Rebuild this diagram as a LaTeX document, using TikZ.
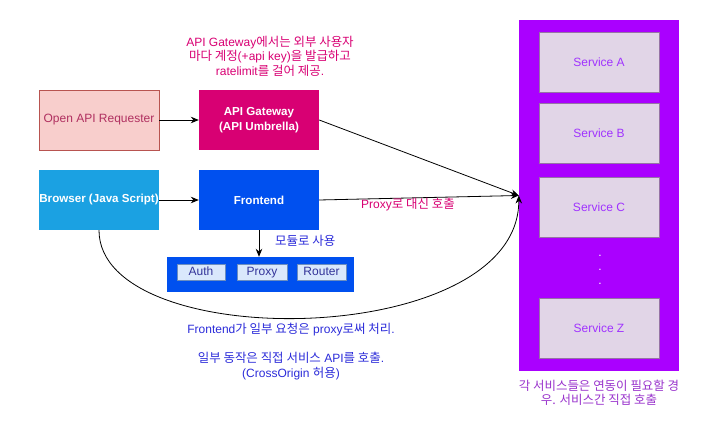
\documentclass[tikz,border=0pt]{standalone}
\usepackage{fontspec}
\setmainfont{Liberation Sans}
\newfontfamily\kr[Scale=1.04]{Noto Sans CJK KR}
\usetikzlibrary{arrows.meta}
\definecolor{reqfill}{HTML}{F8CECC}
\definecolor{reqline}{HTML}{B85450}
\definecolor{reqtext}{HTML}{B03060}
\definecolor{gwfill}{HTML}{D80073}
\definecolor{brfill}{HTML}{1BA1E2}
\definecolor{fefill}{HTML}{0050EF}
\definecolor{modfill}{HTML}{DAE8FC}
\definecolor{modline}{HTML}{6C8EBF}
\definecolor{modtext}{HTML}{333399}
\definecolor{svcpanel}{HTML}{AA00FF}
\definecolor{svcfill}{HTML}{E1D5E7}
\definecolor{svcline}{HTML}{9673A6}
\definecolor{svctext}{HTML}{A033FF}
\definecolor{svcnote}{HTML}{9933CC}
\definecolor{pinktext}{HTML}{D80073}
\definecolor{bluetext}{HTML}{2B2BD9}
\begin{document}
\begin{tikzpicture}[x=1pt,y=-1pt,
  font=\fontsize{12}{14.5}\selectfont,
  box/.style={minimum width=120pt,minimum height=60pt,inner sep=0pt,align=center},
  whitebold/.style={box,text=white,font=\fontsize{11.6}{15}\selectfont\bfseries},
  modbox/.style={draw=modline,fill=modfill,text=modtext,line width=0.9pt,minimum height=16pt,inner sep=0pt,text height=8.6pt,text depth=2.4pt},
  svcbox/.style={draw=svcline,fill=svcfill,text=svctext,line width=0.9pt,minimum width=120pt,minimum height=60pt,inner sep=0pt},
  conn/.style={draw=black,line width=0.8pt,-{Stealth[length=8pt,width=6.5pt]}},
  note/.style={align=center,inner sep=0pt}]
\useasboundingbox (0,0) rectangle (713,427);

% top note
\node[note,text=pinktext] (gwnote) at (270,56) {API Gateway{\kr 에서는 외부 사용자}\\{\kr 마다 계정}(+api key){\kr 을 발급하고}\\ratelimit{\kr 를 걸어 제공}.};

% left boxes
\node[box,draw=reqline,fill=reqfill,text=reqtext,line width=0.9pt] (req) at (99,120) {Open API Requester};
\node[whitebold,fill=gwfill] (gw) at (259,120) {API Gateway\\(API Umbrella)};
\node[whitebold,fill=brfill] (br) at (99,200) {Browser (Java Script)};
\node[whitebold,fill=fefill] (fe) at (259,200) {Frontend};

% modules
\node[fill=fefill,minimum width=187pt,minimum height=35pt,inner sep=0pt] (mods) at (260,274.5) {};
\node[modbox,minimum width=48pt] (auth) at (201,272) {Auth};
\node[modbox,minimum width=50pt] (proxy) at (262,272) {Proxy};
\node[modbox,minimum width=49pt] (router) at (321.5,272) {Router};
\node[note,text=bluetext,anchor=west] (modlbl) at (275,241) {\kr 모듈로 사용};

% services panel
\node[fill=svcpanel,minimum width=160pt,minimum height=351pt,inner sep=0pt] (svc) at (599,195.5) {};
\node[svcbox] (sa) at (599,62) {Service A};
\node[svcbox] (sb) at (599,133) {Service B};
\node[svcbox] (sc) at (599,207.5) {Service C};
\node[svcbox] (sz) at (599,328) {Service Z};
\node[note,text=white,font=\fontsize{12}{14}\selectfont] (dots) at (600,270) {.\\[0pt].\\[0pt].};
\node[note,text=svcnote] (svclbl) at (599,393) {{\kr 각 서비스들은 연동이 필요할 경}\\{\kr 우. 서비스간 직접 호출}};

% bottom note
\node[note,text=bluetext] (brnote) at (291,351.5) {Frontend{\kr 가 일부 요청은} proxy{\kr 로써 처리}.\\[14.5pt]{\kr 일부 동작은 직접 서비스} API{\kr 를 호출}.\\(CrossOrigin {\kr 허용})};

% connectors
\draw[conn] (req.east) -- (gw.west);
\draw[conn] (br.east) -- (fe.west);
\draw[conn] (fe.south) -- (fe.south |- mods.north);
\draw[conn] (gw.east) -- (svc.west);
\draw[conn] (fe.east) -- (svc.west);
\node[note,text=pinktext] (proxylbl) at (408,205) {Proxy{\kr 로 대신 호출}};
\draw[conn] (br.south) .. controls (99,355) and (519,350) .. (svc.west);
\end{tikzpicture}
\end{document}
